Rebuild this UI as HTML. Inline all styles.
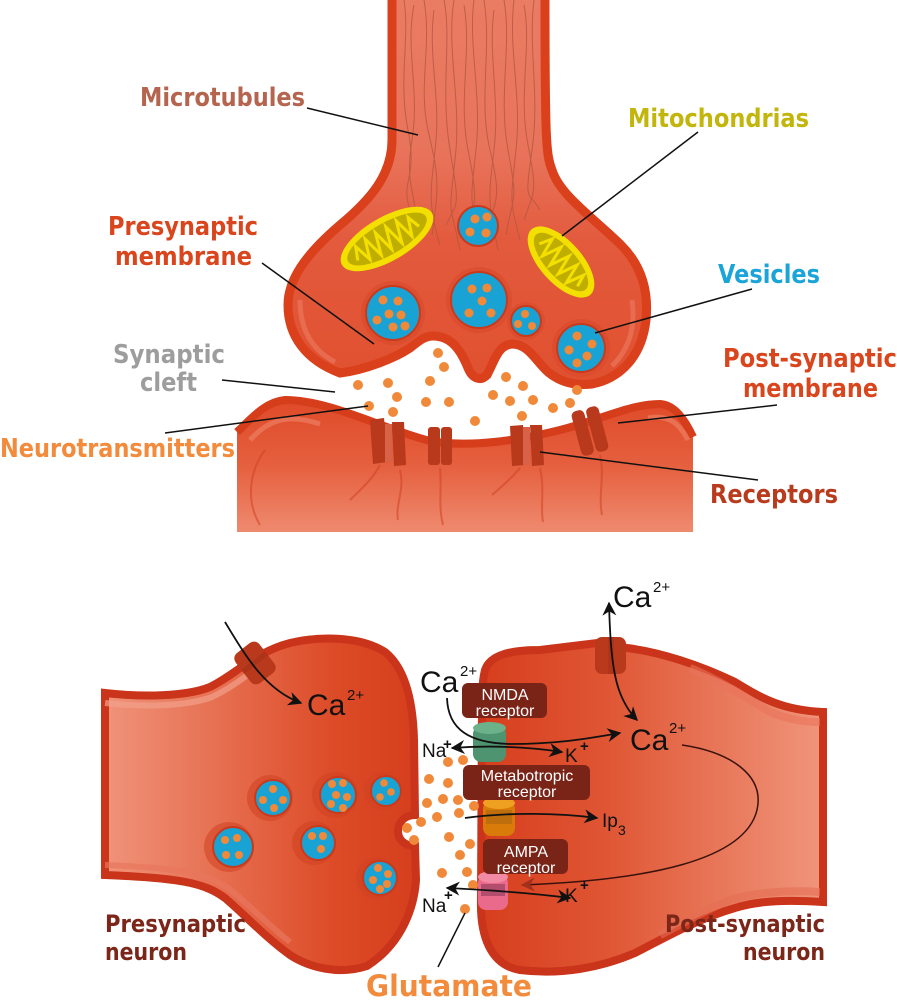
<!DOCTYPE html>
<html><head><meta charset="utf-8"><style>
html,body{margin:0;padding:0;background:#fff;}
svg{display:block;}
.lb{font-family:"DejaVu Sans","Liberation Sans",sans-serif;font-weight:bold;}
.io{font-family:"Liberation Sans",sans-serif;fill:#111;}
.bx{font-family:"Liberation Sans",sans-serif;fill:#fff;font-size:16px;text-anchor:middle;}
</style></head><body>
<svg width="897" height="1000" viewBox="0 0 897 1000" xmlns="http://www.w3.org/2000/svg">
<defs>
<linearGradient id="gb" x1="0" y1="0" x2="0" y2="390" gradientUnits="userSpaceOnUse">
<stop offset="0" stop-color="#ea7c63"/><stop offset="0.4" stop-color="#e8735a"/><stop offset="0.62" stop-color="#e35a3d"/><stop offset="1" stop-color="#e0502f"/></linearGradient>
<linearGradient id="gk" x1="0" y1="400" x2="0" y2="532" gradientUnits="userSpaceOnUse">
<stop offset="0" stop-color="#df4a29"/><stop offset="0.5" stop-color="#e5603f"/><stop offset="1" stop-color="#ef8a6f"/></linearGradient>
<linearGradient id="gp" x1="105" y1="0" x2="415" y2="0" gradientUnits="userSpaceOnUse">
<stop offset="0" stop-color="#f0937a"/><stop offset="0.75" stop-color="#dc4a26"/><stop offset="1" stop-color="#d63f1d"/></linearGradient>
<linearGradient id="gq" x1="485" y1="0" x2="823" y2="0" gradientUnits="userSpaceOnUse">
<stop offset="0" stop-color="#d73f1e"/><stop offset="0.35" stop-color="#df5533"/><stop offset="1" stop-color="#f0957b"/></linearGradient>
<marker id="ah" viewBox="0 0 10 10" refX="9" refY="5" markerWidth="14" markerHeight="14" markerUnits="userSpaceOnUse" orient="auto-start-reverse"><path d="M0,0 L10,5 L0,10 L3,5 z" fill="#111"/></marker>
<marker id="ahr" viewBox="0 0 10 10" refX="9" refY="5" markerWidth="14" markerHeight="14" markerUnits="userSpaceOnUse" orient="auto-start-reverse"><path d="M0,0 L10,5 L0,10 L3,5 z" fill="#a3301c"/></marker>
</defs>

<!-- ============ TOP PANEL ============ -->
<path d="M237,432 C252,418 265,402 285,400 C330,400 380,428 430,441 C470,448 520,440 560,430 C600,420 630,404 660,404 C675,405 685,420 693,437 L693,532 L237,532 Z" fill="url(#gk)"/>
<path d="M237,432 C252,418 265,402 285,400 C330,400 380,428 430,441 C470,448 520,440 560,430 C600,420 630,404 660,404 C675,405 685,420 693,437" fill="none" stroke="#d63d1a" stroke-width="8"/>
<path d="M250,440 C270,418 290,414 320,424 M648,418 C670,414 680,425 688,440" fill="none" stroke="#ec7d62" stroke-width="5" opacity=".7"/>
<g fill="none" stroke="#cf4222" stroke-width="2" opacity=".55">
<path d="M380,465 C372,480 360,490 350,500 M400,470 C405,490 395,505 398,520 M440,468 C442,490 438,505 443,525 M520,468 C510,480 500,488 492,495 M540,468 C545,490 540,505 543,522 M600,455 C605,475 598,495 602,515 M265,450 C250,470 245,500 260,525"/>
</g>
<g fill="#b8391c">
<path d="M370,420 L384,418 L388,462 L373,464 Z"/><path d="M392,422 L404,422 L406,465 L394,466 Z"/>
<rect x="428" y="427" width="12" height="38" rx="3"/><rect x="441" y="427" width="11" height="38" rx="3"/>
<path d="M510,426 L523,425 L525,465 L512,466 Z"/><path d="M530,425 L542,425 L544,465 L532,466 Z"/>
<g transform="translate(590,431) rotate(-15)"><rect x="-14" y="-23" width="13" height="46" rx="5"/><rect x="1" y="-23" width="13" height="46" rx="5"/></g>
</g>
<g fill="#d76247"><rect x="385" y="424" width="7" height="38"/><rect x="523" y="427" width="7" height="38"/></g>

<path d="M392,-5 L392,140 C392,175 370,200 340,225 C305,255 288,280 288,305 C288,335 305,360 340,373 C365,370 395,358 410,348 C420,340 425,336 433,336 C450,336 460,348 468,368 C472,378 480,382 487,375 C495,360 498,345 512,344 C528,344 535,360 548,372 C560,382 575,386 592,384 C622,378 642,355 646,320 C649,290 641,265 621,245 C590,215 560,195 552,170 C546,155 545,140 545,-5 Z" fill="url(#gb)" stroke="#d9401b" stroke-width="9"/>
<path d="M300,300 C300,330 312,350 335,362 M632,300 C636,330 628,350 612,366" fill="none" stroke="#ea7257" stroke-width="5" opacity=".8"/>
<g fill="none" stroke="#b0553f" stroke-width="1" opacity=".75">
<path d="M404,0 C410,40 398,80 408,130 S400,180 410,210"/>
<path d="M414,5 C405,50 420,90 412,140 S418,190 415,230"/>
<path d="M424,0 C432,45 418,85 428,130 S440,180 432,235"/>
<path d="M434,10 C428,55 440,95 436,140 S426,200 440,245"/>
<path d="M444,0 C452,40 440,90 450,150 S458,200 446,225"/>
<path d="M454,0 C446,50 462,100 455,160 S450,200 460,250"/>
<path d="M464,5 C472,50 458,100 468,150 S476,200 466,240"/>
<path d="M474,0 C468,45 482,95 476,150 S470,195 480,245"/>
<path d="M484,0 C492,50 478,100 490,150 S496,200 486,230"/>
<path d="M494,10 C488,55 500,100 494,150 S488,200 498,250"/>
<path d="M504,0 C512,45 498,95 508,150 S514,190 506,235"/>
<path d="M514,0 C508,50 522,95 516,150 S510,200 520,240"/>
<path d="M524,5 C532,45 518,95 528,145 S534,190 524,220"/>
<path d="M534,0 C528,50 540,95 532,150 S528,190 540,210"/>
</g>
<g transform="translate(387,239) rotate(-30)">
<ellipse rx="52" ry="22" fill="#f3df00"/><ellipse rx="45" ry="16" fill="#bfae00"/>
<path d="M-36,4 L-31,-9 L-25,9 L-19,-11 L-13,11 L-7,-11 L-1,11 L5,-11 L11,11 L17,-11 L23,10 L29,-8 L34,5" fill="none" stroke="#f3df00" stroke-width="3"/>
</g>
<g transform="translate(561,262) rotate(48)">
<ellipse rx="44" ry="21" fill="#f3df00"/><ellipse rx="37" ry="15" fill="#bfae00"/>
<path d="M-28,4 L-23,-9 L-17,10 L-11,-10 L-5,10 L1,-10 L7,10 L13,-10 L19,10 L25,-8 L29,4" fill="none" stroke="#f3df00" stroke-width="3"/>
</g>
<g>
<circle cx="393" cy="313" r="32" fill="#d84a2b" opacity=".6"/>
<circle cx="479" cy="300" r="33" fill="#d84a2b" opacity=".6"/>
<circle cx="526" cy="321" r="19" fill="#d84a2b" opacity=".6"/>
<circle cx="581" cy="348" r="29" fill="#d84a2b" opacity=".6"/>
</g>
<g fill="#19a3d4" stroke="#c93a1c" stroke-width="2">
<circle cx="478" cy="226" r="20"/><circle cx="393" cy="313" r="27"/><circle cx="479" cy="300" r="28"/><circle cx="526" cy="321" r="15"/><circle cx="581" cy="348" r="24"/>
</g>
<g fill="#f08a3a">
<circle cx="475" cy="219" r="4.5"/><circle cx="487" cy="217" r="4.5"/><circle cx="470" cy="232" r="4.5"/><circle cx="486" cy="233" r="4.5"/>
<circle cx="383" cy="300" r="4.5"/><circle cx="398" cy="301" r="4.5"/><circle cx="389" cy="314" r="4.5"/><circle cx="401" cy="315" r="4.5"/><circle cx="377" cy="320" r="4.5"/><circle cx="393" cy="327" r="4.5"/><circle cx="405" cy="326" r="4.5"/>
<circle cx="472" cy="289" r="4.5"/><circle cx="487" cy="288" r="4.5"/><circle cx="482" cy="301" r="4.5"/><circle cx="469" cy="313" r="4.5"/><circle cx="491" cy="313" r="4.5"/>
<circle cx="525" cy="314" r="4"/><circle cx="518" cy="324" r="4"/><circle cx="532" cy="326" r="4"/>
<circle cx="577" cy="336" r="4.5"/><circle cx="592" cy="344" r="4.5"/><circle cx="569" cy="350" r="4.5"/><circle cx="587" cy="356" r="4.5"/><circle cx="577" cy="363" r="4.5"/>
</g>
<g fill="#f08a3a">
<circle cx="438" cy="353" r="5"/><circle cx="444" cy="367" r="5"/><circle cx="430" cy="381" r="5"/><circle cx="358" cy="385" r="5"/><circle cx="388" cy="383" r="5"/><circle cx="397" cy="397" r="5"/><circle cx="369" cy="406" r="5"/><circle cx="393" cy="412" r="5"/><circle cx="426" cy="402" r="5"/><circle cx="449" cy="402" r="5"/><circle cx="506" cy="377" r="5"/><circle cx="523" cy="386" r="5"/><circle cx="493" cy="395" r="5"/><circle cx="510" cy="401" r="5"/><circle cx="533" cy="400" r="5"/><circle cx="553" cy="408" r="5"/><circle cx="570" cy="403" r="5"/><circle cx="577" cy="390" r="5"/><circle cx="475" cy="421" r="5"/><circle cx="522" cy="416" r="5"/>
</g>

<g stroke="#111" stroke-width="1.5" fill="none">
<line x1="307" y1="108" x2="418" y2="135"/>
<line x1="698" y1="132" x2="562" y2="236"/>
<line x1="262" y1="263" x2="374" y2="344"/>
<line x1="222" y1="380" x2="335" y2="392"/>
<line x1="165" y1="433" x2="368" y2="406"/>
<line x1="752" y1="289" x2="595" y2="333"/>
<line x1="777" y1="405" x2="618" y2="423"/>
<line x1="758" y1="480" x2="540" y2="452"/>
</g>
<g class="lb" font-size="26">
<text x="140" y="106" textLength="165" lengthAdjust="spacingAndGlyphs" fill="#b5654f">Microtubules</text>
<text x="628" y="127" textLength="181" lengthAdjust="spacingAndGlyphs" fill="#c2b60c">Mitochondrias</text>
<text x="108" y="235" textLength="150" lengthAdjust="spacingAndGlyphs" fill="#d9461e">Presynaptic</text>
<text x="115" y="265" textLength="137" lengthAdjust="spacingAndGlyphs" fill="#d9461e">membrane</text>
<text x="113" y="363" textLength="112" lengthAdjust="spacingAndGlyphs" fill="#9d9d9d">Synaptic</text>
<text x="140" y="391" textLength="57" lengthAdjust="spacingAndGlyphs" fill="#9d9d9d">cleft</text>
<text x="0" y="457" textLength="235" lengthAdjust="spacingAndGlyphs" fill="#f28b3c">Neurotransmitters</text>
<text x="718" y="283" textLength="102" lengthAdjust="spacingAndGlyphs" fill="#1ba4d8">Vesicles</text>
<text x="723" y="367" textLength="174" lengthAdjust="spacingAndGlyphs" fill="#d9461e">Post-synaptic</text>
<text x="743" y="397" textLength="135" lengthAdjust="spacingAndGlyphs" fill="#d9461e">membrane</text>
<text x="710" y="503" textLength="128" lengthAdjust="spacingAndGlyphs" fill="#b93b1d">Receptors</text>
</g>

<!-- ============ BOTTOM PANEL ============ -->
<path d="M105,693 C140,697 185,697 210,687 C235,675 255,652 290,643 C320,636 360,636 385,652 C405,668 413,700 414,740 L415,815 C405,815 398,822 398,831 C398,840 405,846 415,846 L416,880 C414,910 400,945 367,966 C340,975 310,968 290,955 C265,937 245,915 225,898 C205,883 180,878 105,875 Z" fill="url(#gp)" stroke="#c9341a" stroke-width="8"/>
<path d="M105,703 C140,707 185,707 212,697 C235,686 250,672 270,660" fill="none" stroke="#f2a08a" stroke-width="6" opacity=".7"/>
<path d="M105,865 C180,868 205,873 228,888 C250,905 268,925 290,942" fill="none" stroke="#e8765c" stroke-width="6" opacity=".7"/>
<g transform="translate(255,663) rotate(-38)"><rect x="-15" y="-19" width="30" height="38" rx="7" fill="#b8391c"/><rect x="-15" y="-3" width="30" height="5" fill="#a53018" opacity=".6"/></g>
<g fill="#d04222" opacity=".55">
<circle cx="270" cy="798" r="23"/><circle cx="335" cy="795" r="23"/><circle cx="383" cy="791" r="19"/><circle cx="229" cy="847" r="25"/><circle cx="314" cy="843" r="22"/><circle cx="377" cy="878" r="21"/>
</g>
<g fill="#19a3d4" stroke="#c93a1c" stroke-width="2">
<circle cx="273" cy="798" r="18"/><circle cx="338" cy="795" r="18"/><circle cx="386" cy="791" r="15"/><circle cx="233" cy="847" r="20"/><circle cx="318" cy="843" r="17"/><circle cx="380" cy="878" r="17"/>
</g>
<g fill="#f08a3a">
<circle cx="273" cy="789" r="4"/><circle cx="263" cy="800" r="4"/><circle cx="283" cy="800" r="4"/><circle cx="274" cy="808" r="4"/>
<circle cx="332" cy="784" r="4"/><circle cx="343" cy="783" r="4"/><circle cx="336" cy="795" r="4"/><circle cx="347" cy="797" r="4"/><circle cx="331" cy="804" r="4"/><circle cx="343" cy="808" r="4"/>
<circle cx="384" cy="783" r="3.8"/><circle cx="391" cy="792" r="3.8"/><circle cx="380" cy="797" r="3.8"/>
<circle cx="225" cy="840" r="4"/><circle cx="237" cy="838" r="4"/><circle cx="226" cy="855" r="4"/><circle cx="239" cy="855" r="4"/>
<circle cx="312" cy="836" r="4"/><circle cx="323" cy="836" r="4"/><circle cx="321" cy="849" r="4"/>
<circle cx="378" cy="868" r="4"/><circle cx="388" cy="874" r="4"/><circle cx="373" cy="880" r="4"/><circle cx="387" cy="884" r="4"/><circle cx="380" cy="889" r="4"/>
</g>

<path d="M485,670 C490,655 510,650 540,650 L597,643 L627,648 C660,652 700,665 735,682 C760,697 780,710 823,712 L823,902 C790,900 760,900 735,908 C700,918 670,935 635,953 C600,968 560,975 520,970 C490,965 480,935 481,900 L482,700 C482,690 483,678 485,670 Z" fill="url(#gq)" stroke="#c9341a" stroke-width="8"/>
<path d="M690,668 C720,680 750,700 770,712 C790,720 805,722 820,722" fill="none" stroke="#e9735a" stroke-width="8" opacity=".6"/>
<path d="M820,892 C790,890 755,892 730,900 C705,910 680,925 660,935" fill="none" stroke="#e46e54" stroke-width="8" opacity=".6"/>
<rect x="595" y="637" width="31" height="37" rx="7" fill="#b8391c"/>
<rect x="608" y="637" width="6" height="37" fill="#a53018" opacity=".5"/>

<g fill="#f08a3a">
<circle cx="448" cy="762" r="5"/><circle cx="463" cy="760" r="5"/><circle cx="429" cy="779" r="5"/><circle cx="448" cy="783" r="5"/><circle cx="427" cy="803" r="5"/><circle cx="443" cy="799" r="5"/><circle cx="458" cy="800" r="5"/><circle cx="474" cy="806" r="5"/><circle cx="437" cy="817" r="5"/><circle cx="459" cy="813" r="5"/><circle cx="421" cy="822" r="5"/><circle cx="407" cy="828" r="5"/><circle cx="414" cy="840" r="5"/><circle cx="449" cy="837" r="5"/><circle cx="470" cy="844" r="5"/><circle cx="460" cy="855" r="5"/><circle cx="442" cy="873" r="5"/><circle cx="467" cy="872" r="5"/><circle cx="473" cy="885" r="5"/><circle cx="465" cy="909" r="5"/>
</g>

<g>
<rect x="473" y="726" width="33" height="36" rx="8" fill="#4f9470"/>
<ellipse cx="489.5" cy="728" rx="16.5" ry="6" fill="#6bb28a"/>
<rect x="483" y="801" width="32" height="35" rx="8" fill="#d97b08"/>
<ellipse cx="499" cy="803" rx="16" ry="6" fill="#f0a020"/>
<rect x="486" y="810" width="26" height="14" fill="#a86510" opacity=".55"/>
<rect x="478" y="875" width="30" height="35" rx="8" fill="#ea6a8c"/>
<ellipse cx="493" cy="877" rx="15" ry="6" fill="#f28aa5"/>
<rect x="481" y="884" width="24" height="12" fill="#8d3b58" opacity=".6"/>
</g>
<g fill="#7a2418">
<rect x="462" y="683" width="85" height="35" rx="6"/>
<rect x="463" y="765" width="127" height="35" rx="6"/>
<rect x="483" y="839" width="85" height="35" rx="6"/>
</g>
<text class="bx" x="505" y="700">NMDA</text><text class="bx" x="505" y="716">receptor</text>
<text class="bx" x="527" y="781">Metabotropic</text><text class="bx" x="527" y="797">receptor</text>
<text class="bx" x="526" y="857">AMPA</text><text class="bx" x="526" y="873">receptor</text>

<g fill="none" stroke="#111" stroke-width="1.8">
<path d="M225,622 C245,655 265,690 301,703" marker-end="url(#ah)"/>
<path d="M609,603 C610,640 612,670 619,690 C624,704 630,713 637,720" marker-start="url(#ah)" marker-end="url(#ah)"/>
<path d="M447,698 C448,730 470,743 510,744 C560,744 590,738 620,733" marker-end="url(#ah)"/>
<path d="M452,748 C490,745 530,747 562,752" marker-start="url(#ah)" marker-end="url(#ah)"/>
<path d="M465,818 C510,812 560,813 597,818" marker-end="url(#ah)"/>
<path d="M447,888 C490,890 530,893 570,898" marker-start="url(#ah)" marker-end="url(#ah)"/>
<line x1="465" y1="913" x2="438" y2="967" stroke-width="1.5"/>
</g>
<path d="M682,745 C730,752 765,775 757,810 C745,860 650,880 522,885" fill="none" stroke="#3a120c" stroke-width="1.5" marker-end="url(#ahr)"/>

<text class="io" x="307" y="715" font-size="30">Ca</text><text class="io" x="347" y="700" font-size="15">2+</text>
<text class="io" x="420" y="692" font-size="30">Ca</text><text class="io" x="460" y="676" font-size="15">2+</text>
<text class="io" x="613" y="607" font-size="30">Ca</text><text class="io" x="653" y="592" font-size="15">2+</text>
<text class="io" x="630" y="750" font-size="30">Ca</text><text class="io" x="669" y="733" font-size="15">2+</text>
<text class="io" x="422" y="757" font-size="19">Na</text><text class="io" x="443" y="749" font-size="15" font-weight="bold">+</text>
<text class="io" x="565" y="762" font-size="19">K</text><text class="io" x="580" y="751" font-size="15" font-weight="bold">+</text>
<text class="io" x="602" y="827" font-size="19">Ip</text><text class="io" x="618" y="835" font-size="14">3</text>
<text class="io" x="422" y="912" font-size="19">Na</text><text class="io" x="444" y="900" font-size="15" font-weight="bold">+</text>
<text class="io" x="565" y="902" font-size="19">K</text><text class="io" x="580" y="890" font-size="15" font-weight="bold">+</text>

<g class="lb" font-size="24" fill="#7c2619">
<text x="105" y="932" textLength="141" lengthAdjust="spacingAndGlyphs">Presynaptic</text>
<text x="105" y="960" textLength="82" lengthAdjust="spacingAndGlyphs">neuron</text>
<text x="665" y="932" textLength="160" lengthAdjust="spacingAndGlyphs">Post-synaptic</text>
<text x="743" y="960" textLength="82" lengthAdjust="spacingAndGlyphs">neuron</text>
</g>
<text class="lb" x="366" y="996" font-size="29" fill="#f28b3c" textLength="166" lengthAdjust="spacingAndGlyphs">Glutamate</text>
</svg>
</body></html>
